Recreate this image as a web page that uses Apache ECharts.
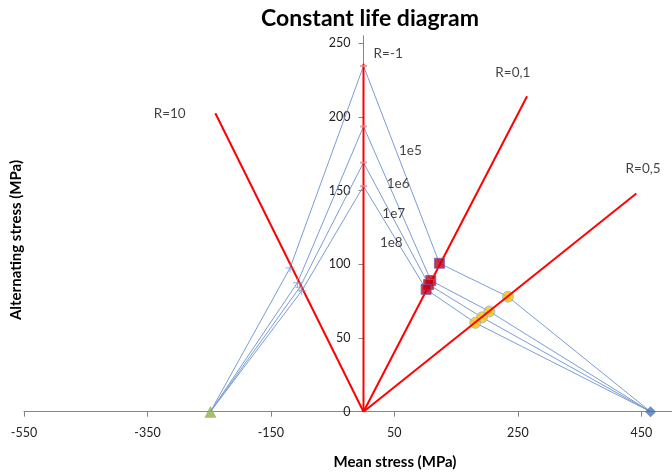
<!DOCTYPE html>
<html><head><meta charset="utf-8">
<script src="https://cdn.jsdelivr.net/npm/echarts@6/dist/echarts.min.js"></script>
<style>html,body{margin:0;padding:0;background:#fff}#c{width:672px;height:473px}</style>
</head><body><div id="c"></div><script>
// ---- data ----
const lifeNames = ['1e5', '1e6', '1e7', '1e8'];
const ucsPoint = [-248, 0];          // compressive strength (triangle)
const utsPoint = [465, 0];           // tensile strength (diamond)
const pointsR10  = [[-119, 97.5], [-107, 87.5], [-103, 84.5], [-100, 82]];
const pointsRm1  = [[0, 234.5], [0, 193.5], [0, 169], [0, 153]];
const pointsR01  = [[123, 100.7], [109, 89], [105.5, 86.3], [101.5, 83]];
const pointsR05  = [[234, 78], [204, 68], [192, 64], [181, 60.3]];
const rayNames = ['R=10', 'R=-1', 'R=0,1', 'R=0,5'];
const rayEnds  = [[-240, 202.5], [0, 236], [265, 214], [442, 148]];
const rayLabelAt  = [[-314, 202.5], [40, 243], [242, 230], [453, 165]];
const lifeLabelAt = [[76, 177], [56, 155], [49, 134.6], [45, 115]];
const xTicks = [-550, -350, -150, 50, 250, 450];
const yTicks = [0, 50, 100, 150, 200, 250];

const FONT = 'Lato, "Open Sans", sans-serif';
const GRID_LEFT = 24, GRID_RIGHT = -31;
const X_MIN = -550, X_MAX = 550;
const chart = echarts.init(document.getElementById('c'), null, {renderer: 'canvas'});
const gridWidth = 672 - GRID_LEFT - GRID_RIGHT;
const yAxisOffset = -gridWidth * (0 - X_MIN) / (X_MAX - X_MIN);

const series = [];
lifeNames.forEach((n, i) => {
  series.push({
    type: 'line', name: n, z: 2, showSymbol: false, silent: true,
    lineStyle: {color: '#7b9dd2', width: 1},
    data: [ucsPoint, pointsR10[i], pointsRm1[i], pointsR01[i], pointsR05[i], utsPoint]
  });
});
series.push({type: 'scatter', z: 3, symbol: 'circle', symbolSize: 11,
  itemStyle: {color: '#ffc000', borderColor: '#8fb6c9', borderWidth: 1}, data: pointsR05});
rayNames.forEach((n, i) => {
  series.push({type: 'line', name: n, z: 4, showSymbol: false, silent: true,
    lineStyle: {color: '#ff0000', width: 2}, data: [[0, 0], rayEnds[i]]});
});
series.push({type: 'scatter', z: 5, symbol: 'rect', symbolSize: 10,
  itemStyle: {color: '#c00018', borderColor: '#7d5aa0', borderWidth: 1}, data: pointsR01});
series.push({type: 'scatter', z: 5, symbol: 'rect', symbolSize: [7, 2],
  itemStyle: {color: '#e08a96'}, data: pointsRm1});
series.push({type: 'scatter', z: 5, symbol: 'path://M4,0h1v4h4v1h-4v4h-1v-4h-4v-1h4z', symbolSize: 9,
  itemStyle: {color: '#7b9dd2'}, data: pointsR10});
series.push({type: 'scatter', z: 5, symbol: 'triangle', symbolSize: 12,
  itemStyle: {color: '#8fb04e'}, data: [ucsPoint]});
series.push({type: 'scatter', z: 5, symbol: 'diamond', symbolSize: 11,
  itemStyle: {color: '#4a74b0'}, data: [utsPoint]});
const labelData = rayNames.map((n, i) => ({name: n, value: rayLabelAt[i]}))
  .concat(lifeNames.map((n, i) => ({name: n, value: lifeLabelAt[i]})));
series.push({type: 'scatter', z: 6, symbolSize: 0, silent: true, data: labelData,
  label: {show: true, position: 'inside', formatter: p => p.name,
    color: '#111', fontSize: 13.5, fontFamily: FONT}});

chart.setOption({
  animation: false,
  backgroundColor: '#fff',
  grid: {left: GRID_LEFT, right: GRID_RIGHT, top: 35.8, bottom: 61.3,
    containLabel: false, outerBoundsMode: 'none'},
  xAxis: {
    type: 'value', min: X_MIN, max: X_MAX, interval: 200,
    axisLine: {onZero: false, lineStyle: {color: '#868686', width: 1}},
    axisTick: {show: true, length: 5, lineStyle: {color: '#868686'}, customValues: xTicks},
    axisLabel: {color: '#222', fontSize: 12.5, fontFamily: FONT, margin: 15, customValues: xTicks},
    splitLine: {show: false}
  },
  yAxis: {
    type: 'value', min: 0, max: 255, interval: 50, position: 'left', offset: yAxisOffset,
    axisLine: {show: true, onZero: false, lineStyle: {color: '#868686', width: 1}},
    axisTick: {show: true, length: 5, lineStyle: {color: '#868686'}, customValues: yTicks},
    axisLabel: {color: '#222', fontSize: 12.5, fontFamily: FONT, margin: 13, customValues: yTicks},
    splitLine: {show: false}
  },
  graphic: [
    {type: 'text', x: 370, y: 19, style: {text: 'Constant life diagram', font: 'bold 23px ' + FONT,
      fill: '#000', textAlign: 'center', textVerticalAlign: 'middle'}},
    {type: 'text', x: 395, y: 462, style: {text: 'Mean stress (MPa)', font: 'bold 15px ' + FONT,
      fill: '#000', textAlign: 'center', textVerticalAlign: 'middle'}},
    {type: 'text', x: 16, y: 240, rotation: Math.PI / 2, style: {text: 'Alternating stress (MPa)',
      font: 'bold 15px ' + FONT, fill: '#000', textAlign: 'center', textVerticalAlign: 'middle'}}
  ],
  series: series
});
</script></body></html>
